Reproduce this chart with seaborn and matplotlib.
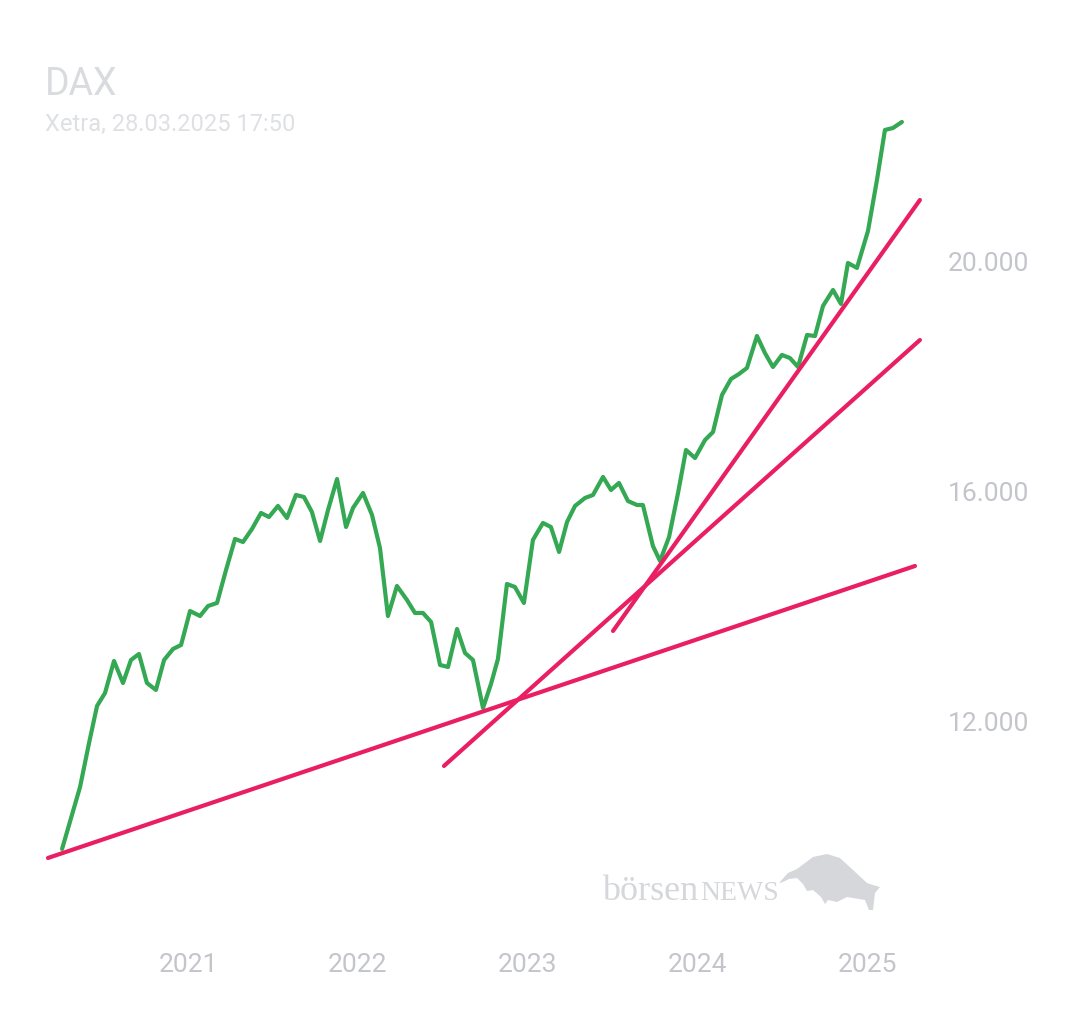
import matplotlib
matplotlib.use("Agg")
import matplotlib.pyplot as plt
from matplotlib.patches import Polygon
from matplotlib.ticker import FuncFormatter
import seaborn as sns
import pandas as pd

# ---- data ----
years = [2020.258, 2020.311, 2020.364, 2020.417, 2020.464, 2020.511, 2020.564, 2020.617, 2020.664, 2020.711,
         2020.758, 2020.811, 2020.859, 2020.912, 2020.959, 2021.012, 2021.071, 2021.118, 2021.171, 2021.224,
         2021.277, 2021.324, 2021.377, 2021.430, 2021.477, 2021.530, 2021.583, 2021.636, 2021.683, 2021.730,
         2021.778, 2021.825, 2021.878, 2021.931, 2021.972, 2022.031, 2022.084, 2022.131, 2022.178, 2022.231,
         2022.290, 2022.337, 2022.384, 2022.432, 2022.485, 2022.532, 2022.585, 2022.632, 2022.679, 2022.738,
         2022.785, 2022.826, 2022.879, 2022.926, 2022.979, 2023.032, 2023.091, 2023.138, 2023.186, 2023.233,
         2023.280, 2023.339, 2023.386, 2023.445, 2023.492, 2023.539, 2023.592, 2023.645, 2023.680, 2023.739,
         2023.781, 2023.834, 2023.887, 2023.934, 2023.987, 2024.046, 2024.093, 2024.146, 2024.199, 2024.246,
         2024.293, 2024.352, 2024.399, 2024.446, 2024.499, 2024.546, 2024.594, 2024.647, 2024.694, 2024.741,
         2024.800, 2024.847, 2024.888, 2024.941, 2025.006, 2025.059, 2025.106, 2025.153, 2025.206]
dax = [9791, 10330, 10870, 11635, 12278, 12504, 13061, 12678, 13078, 13183,
       12678, 12557, 13078, 13270, 13339, 13930, 13843, 14017, 14070, 14643,
       15183, 15130, 15357, 15635, 15565, 15757, 15548, 15948, 15913, 15652,
       15148, 15687, 16226, 15391, 15722, 15983, 15600, 15026, 13843, 14365,
       14122, 13896, 13896, 13739, 12991, 12957, 13617, 13200, 13078, 12243,
       12661, 13096, 14400, 14348, 14070, 15165, 15461, 15391, 14957, 15478,
       15757, 15896, 15948, 16261, 16035, 16157, 15843, 15774, 15774, 15061,
       14800, 15217, 15983, 16730, 16591, 16904, 17043, 17687, 17965, 18052,
       18157, 18713, 18417, 18174, 18383, 18330, 18174, 18730, 18713, 19235,
       19513, 19270, 19983, 19896, 20539, 21426, 22296, 22330, 22435]

trend_start_year = [2020.175, 2022.508, 2023.504]
trend_end_year = [2025.283, 2025.312, 2025.312]
trend_start_value = [9635, 11235, 13583]
trend_end_value = [14713, 18643, 21078]

year_ticks = [2021, 2022, 2023, 2024, 2025]
value_ticks = [12000, 16000, 20000]

title = "DAX"
subtitle = "Xetra, 28.03.2025 17:50"

# ---- style ----
sns.set_theme(style="white")
plt.rcParams["font.family"] = ["Roboto", "DejaVu Sans"]

GREEN = "#34a853"
PINK = "#e91e63"
TICK = "#c3c5cb"
TITLE = "#dadbdf"
SUB = "#dfe0e3"
MARK = "#d5d7db"

W, H = 1080, 1013
fig = plt.figure(figsize=(W / 100, H / 100), dpi=100)
fig.patch.set_facecolor("white")

ax_l, ax_r, ax_t, ax_b = 40, 925, 100, 900
ax = fig.add_axes([ax_l / W, 1 - ax_b / H, (ax_r - ax_l) / W, (ax_b - ax_t) / H])
ax.set_facecolor("white")

df = pd.DataFrame({"year": years, "value": dax})
sns.lineplot(data=df, x="year", y="value", ax=ax, color=GREEN, linewidth=3.0,
             sort=False, estimator=None, zorder=2)

for i in range(len(trend_start_year)):
    tdf = pd.DataFrame({"year": [trend_start_year[i], trend_end_year[i]],
                        "value": [trend_start_value[i], trend_end_value[i]]})
    sns.lineplot(data=tdf, x="year", y="value", ax=ax, color=PINK, linewidth=3.0,
                 sort=False, estimator=None, zorder=3)

ax.set_xlim(2020.128, 2025.342)
ax.set_ylim(8904, 22817)

ax.set_xticks(year_ticks)
ax.set_xticklabels([str(y) for y in year_ticks])
ax.set_yticks(value_ticks)
ax.yaxis.set_major_formatter(FuncFormatter(lambda v, p: f"{v:,.0f}".replace(",", ".")))
ax.yaxis.tick_right()
ax.tick_params(axis="x", length=0, pad=38, labelsize=19, labelcolor=TICK)
ax.tick_params(axis="y", length=0, pad=16.5, labelsize=19, labelcolor=TICK)
ax.set_xlabel("")
ax.set_ylabel("")
for s in ax.spines.values():
    s.set_visible(False)
ax.grid(False)

# titles
fig.text(45 / W, 1 - 95 / H, title, fontsize=27, color=TITLE, va="baseline", ha="left")
fig.text(45 / W, 1 - 131 / H, subtitle, fontsize=17, color=SUB, va="baseline", ha="left")

# watermark
fig.text(602 / W, 1 - 900 / H, "börsen", fontsize=26, color=MARK, va="baseline", ha="left",
         family=["Liberation Serif", "DejaVu Serif"])
fig.text(700 / W, 1 - 900 / H, "NEWS", fontsize=20, color=MARK, va="baseline", ha="left",
         family=["Liberation Serif", "DejaVu Serif"])
bull_px = [(779, 883), (788, 873), (797, 869), (813, 857), (827, 854), (840, 858), (853, 870),
           (867, 883), (873, 885), (880, 887), (875, 893), (873, 910), (869, 910), (865, 900),
           (847, 897), (837, 902), (828, 900), (825, 904), (821, 897), (813, 890), (807, 891),
           (803, 884), (797, 878), (789, 879), (783, 882)]
bull = Polygon([(x / W, 1 - y / H) for x, y in bull_px], closed=True, facecolor=MARK,
               edgecolor="none", transform=fig.transFigure)
fig.add_artist(bull)

fig.savefig("out.png", dpi=100, facecolor="white")
